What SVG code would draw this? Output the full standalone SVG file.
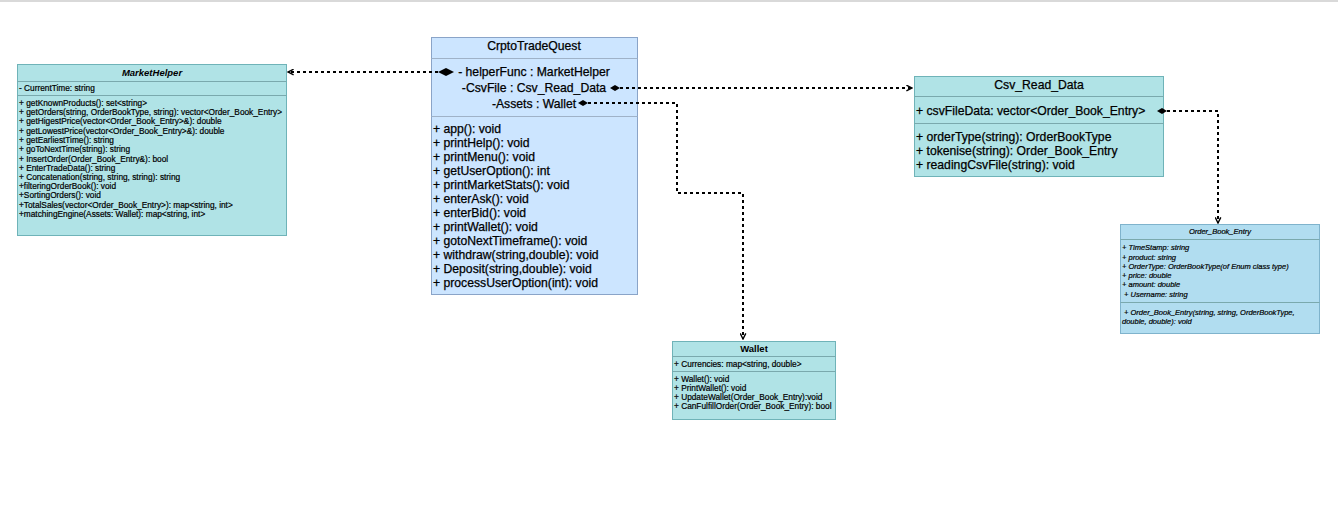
<svg xmlns="http://www.w3.org/2000/svg" width="1338" height="523" viewBox="0 0 1338 523">
<style>
  text { font-family: "Liberation Sans", Arial, sans-serif; fill: #000; stroke: #000; stroke-width: 0.2; }
  .s { font-size: 8.3px; }
  .o { font-size: 7.5px; font-style: italic; }
  .m { font-size: 12.2px; stroke-width: 0.25; }
  .t1 { font-size: 9.5px; font-style: italic; font-weight: bold; stroke-width: 0; }
  .t2 { font-size: 9.5px; font-weight: bold; stroke-width: 0; }
  .teal { fill: #b0e3e6; stroke: #6fb3b8; stroke-width: 1; }
  .blue { fill: #cce5ff; stroke: #8aa4c8; stroke-width: 1; }
  .lblue { fill: #b1ddf0; stroke: #7fb3cc; stroke-width: 1; }
  .div { stroke: #7aa9ad; stroke-width: 1; }
  .divb { stroke: #9fb2c8; stroke-width: 1; }
  .conn { fill: none; stroke: #000; stroke-width: 2; stroke-dasharray: 3 3; }
</style>
<defs>
  <marker id="open" viewBox="0 0 10 10" refX="9" refY="5" markerWidth="7" markerHeight="7" orient="auto-start-reverse" markerUnits="userSpaceOnUse">
    <path d="M1,1 L9,5 L1,9" fill="none" stroke="#000" stroke-width="2"/>
  </marker>
</defs>
<rect x="0" y="0" width="1338" height="523" fill="#fff"/>
<line x1="0" y1="1" x2="1338" y2="1" stroke="#cccccc" stroke-width="1.5"/>

<g id="MarketHelper">
  <rect class="teal" x="17.5" y="64.5" width="269" height="171"/>
  <line class="div" x1="17.5" y1="81.5" x2="286.5" y2="81.5"/>
  <line class="div" x1="17.5" y1="95.5" x2="286.5" y2="95.5"/>
  <text class="t1" x="152" y="75.5" text-anchor="middle">MarketHelper</text>
  <text class="s" x="19" y="91">- CurrentTime: string</text>
  <text class="s" x="19" y="106">+ getKnownProducts(): set&lt;string&gt;</text>
  <text class="s" x="19" y="115">+ getOrders(string, OrderBookType, string): vector&lt;Order_Book_Entry&gt;</text>
  <text class="s" x="19" y="124">+ getHigestPrice(vector&lt;Order_Book_Entry&gt;&amp;): double</text>
  <text class="s" x="19" y="133.5">+ getLowestPrice(vector&lt;Order_Book_Entry&gt;&amp;): double</text>
  <text class="s" x="19" y="143">+ getEarliestTime(): string</text>
  <text class="s" x="19" y="152">+ goToNextTime(string): string</text>
  <text class="s" x="19" y="161.5">+ InsertOrder(Order_Book_Entry&amp;): bool</text>
  <text class="s" x="19" y="170.5">+ EnterTradeData(): string</text>
  <text class="s" x="19" y="180">+ Concatenation(string, string, string): string</text>
  <text class="s" x="19" y="189">+filteringOrderBook(): void</text>
  <text class="s" x="19" y="198">+SortingOrders(): void</text>
  <text class="s" x="19" y="207.5">+TotalSales(vector&lt;Order_Book_Entry&gt;): map&lt;string, int&gt;</text>
  <text class="s" x="19" y="217">+matchingEngine(Assets: Wallet): map&lt;string, int&gt;</text>
</g>

<g id="CrptoTradeQuest">
  <rect class="blue" x="431.5" y="37.5" width="206" height="257"/>
  <line class="divb" x1="431.5" y1="58.5" x2="637.5" y2="58.5"/>
  <line class="divb" x1="431.5" y1="116.5" x2="637.5" y2="116.5"/>
  <text class="m" x="534" y="50" text-anchor="middle">CrptoTradeQuest</text>
  <text class="m" x="534" y="76" text-anchor="middle">- helperFunc : MarketHelper</text>
  <text class="m" x="534" y="91.5" text-anchor="middle">-CsvFile : Csv_Read_Data</text>
  <text class="m" x="534" y="107.5" text-anchor="middle">-Assets : Wallet</text>
  <text class="m" x="433" y="132.5">+ app(): void</text>
  <text class="m" x="433" y="146.5">+ printHelp(): void</text>
  <text class="m" x="433" y="160.5">+ printMenu(): void</text>
  <text class="m" x="433" y="174.5">+ getUserOption(): int</text>
  <text class="m" x="433" y="188.5">+ printMarketStats(): void</text>
  <text class="m" x="433" y="202.5">+ enterAsk(): void</text>
  <text class="m" x="433" y="216.5">+ enterBid(): void</text>
  <text class="m" x="433" y="230.5">+ printWallet(): void</text>
  <text class="m" x="433" y="244.5">+ gotoNextTimeframe(): void</text>
  <text class="m" x="433" y="258.5">+ withdraw(string,double): void</text>
  <text class="m" x="433" y="273">+ Deposit(string,double): void</text>
  <text class="m" x="433" y="287">+ processUserOption(int): void</text>
</g>

<g id="Csv_Read_Data">
  <rect class="teal" x="914.5" y="76.5" width="249" height="100"/>
  <line class="div" x1="914.5" y1="96.5" x2="1163.5" y2="96.5"/>
  <line class="div" x1="914.5" y1="123.5" x2="1163.5" y2="123.5"/>
  <text class="m" x="1039" y="89" text-anchor="middle">Csv_Read_Data</text>
  <text class="m" x="916" y="114.5">+ csvFileData: vector&lt;Order_Book_Entry&gt;</text>
  <text class="m" x="916" y="140.5">+ orderType(string): OrderBookType</text>
  <text class="m" x="916" y="154.5">+ tokenise(string): Order_Book_Entry</text>
  <text class="m" x="916" y="168.5">+ readingCsvFile(string): void</text>
</g>

<g id="Order_Book_Entry">
  <rect class="lblue" x="1120.5" y="224.5" width="199" height="109"/>
  <line class="div" x1="1120.5" y1="239.5" x2="1319.5" y2="239.5"/>
  <line class="div" x1="1120.5" y1="302.5" x2="1319.5" y2="302.5"/>
  <text class="o" x="1220" y="233.5" text-anchor="middle">Order_Book_Entry</text>
  <text class="o" x="1122" y="250">+ TimeStamp: string</text>
  <text class="o" x="1122" y="259.5">+ product: string</text>
  <text class="o" x="1122" y="268.5">+ OrderType: OrderBookType(of Enum class type)</text>
  <text class="o" x="1122" y="278">+ price: double</text>
  <text class="o" x="1122" y="287">+ amount: double</text>
  <text class="o" x="1124" y="296.5">+ Username: string</text>
  <text class="o" x="1124" y="314.5">+ Order_Book_Entry(string, string, OrderBookType,</text>
  <text class="o" x="1122" y="323.5">double, double): void</text>
</g>

<g id="Wallet">
  <rect class="teal" x="672.5" y="341.5" width="163" height="78"/>
  <line class="div" x1="672.5" y1="356.5" x2="835.5" y2="356.5"/>
  <line class="div" x1="672.5" y1="371.5" x2="835.5" y2="371.5"/>
  <text class="t2" x="754" y="352" text-anchor="middle">Wallet</text>
  <text class="s" x="674" y="366.5">+ Currencies: map&lt;string, double&gt;</text>
  <text class="s" x="674" y="381.5">+ Wallet(): void</text>
  <text class="s" x="674" y="390.5">+ PrintWallet(): void</text>
  <text class="s" x="674" y="399.5">+ UpdateWallet(Order_Book_Entry):void</text>
  <text class="s" x="674" y="409">+ CanFulfillOrder(Order_Book_Entry): bool</text>
</g>

<g id="connectors">
  <path class="conn" d="M438,72 L288,72" marker-end="url(#open)"/>
  <path d="M438,72 L446,68 L454,72 L446,76 Z" fill="#000"/>
  <path class="conn" d="M620,88 L912,88" marker-end="url(#open)"/>
  <path d="M610,88 L615,85 L620,88 L615,91 Z" fill="#000"/>
  <path class="conn" d="M588,103 L677,103 L677,193 L743,193 L743,339" marker-end="url(#open)"/>
  <path d="M578,103 L583,100 L588,103 L583,106 Z" fill="#000"/>
  <path class="conn" d="M1167,111 L1218,111 L1218,223" marker-end="url(#open)"/>
  <path d="M1157,111 L1162,108 L1167,111 L1162,114 Z" fill="#000"/>
</g>
</svg>
